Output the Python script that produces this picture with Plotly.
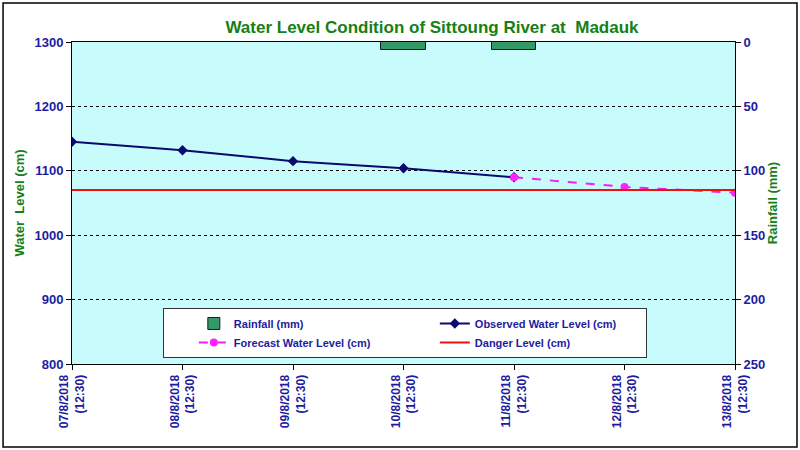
import plotly.graph_objects as go

dates = ["07/8/2018", "08/8/2018", "09/8/2018", "10/8/2018", "11/8/2018", "12/8/2018", "13/8/2018"]
times = ["(12:30)"] * 7
tick_labels = [d + "<br>" + t for d, t in zip(dates, times)]
idx = list(range(len(dates)))

observed = [1145, 1132, 1115, 1104, 1090, None, None]
forecast = [None, None, None, None, 1090, 1075, 1066]
danger = [1070] * 7
rainfall = [0, 0, 0, 6, 6, 0, 0]

navy = "#1c1ca0"
green = "#158015"

fig = go.Figure()
fig.add_trace(go.Bar(x=idx, y=rainfall, yaxis="y2", name="Rainfall (mm)", width=0.4,
                     marker=dict(color="#339966", line=dict(color="#1a1a1a", width=1))))
fig.add_trace(go.Scatter(x=idx, y=observed, name="Observed Water Level (cm)", mode="lines+markers",
                         line=dict(color="#0a0a6e", width=2), marker=dict(symbol="diamond", size=8, color="#0a0a6e")))
fig.add_trace(go.Scatter(x=idx, y=forecast, name="Forecast Water Level (cm)", mode="lines+markers",
                         line=dict(color="#ee22ee", width=2, dash="dash"), marker=dict(symbol="circle", size=8, color="#ff22ff")))
fig.add_trace(go.Scatter(x=idx, y=danger, name="Danger Level (cm)", mode="lines",
                         line=dict(color="#ee1111", width=2)))

tickfont = dict(family="Liberation Sans Narrow, Arial Narrow, Liberation Sans, Arial", size=13, color=navy)
fig.update_layout(
    width=800, height=450,
    margin=dict(l=72, r=65, t=42, b=86, autoexpand=False),
    paper_bgcolor="white", plot_bgcolor="#c8fcfc",
    title=dict(text="<b>Water Level Condition of Sittoung River at  Madauk</b>", x=0.54, xanchor="center",
               y=0.94, yanchor="middle", automargin=False,
               font=dict(family="Liberation Sans Narrow, Arial Narrow, Liberation Sans, Arial", size=17, color=green)),
    xaxis=dict(range=[0, 6], tickvals=idx, ticktext=["<b>" + t + "</b>" for t in tick_labels], tickangle=-90,
               tickfont=dict(family="Liberation Sans, Arial", size=12, color=navy), automargin=False,
               showgrid=False, zeroline=False, showline=True, linecolor="black", mirror=True,
               ticks="outside", ticklen=5, tickcolor="black"),
    yaxis=dict(range=[800, 1300], dtick=100, showgrid=True, gridcolor="black", griddash="dot", gridwidth=1,
               zeroline=False, showline=True, linecolor="black", ticks="outside", ticklen=5, tickcolor="black",
               tickfont=tickfont, tickprefix="<b>", ticksuffix="</b>", automargin=False,
               title=dict(text="<b>Water  Level (cm)</b>", standoff=6,
                          font=dict(family="Liberation Sans, Arial", size=13, color=green))),
    yaxis2=dict(range=[250, 0], dtick=50, overlaying="y", side="right", showgrid=False, zeroline=False,
                showline=True, linecolor="black", ticks="outside", ticklen=5, tickcolor="black",
                tickfont=tickfont, tickprefix="<b>", ticksuffix="</b>", automargin=False,
                title=dict(text="<b>Rainfall (mm)</b>", standoff=1,
                           font=dict(family="Liberation Sans, Arial", size=13, color=green))),
    legend=dict(orientation="h", x=0.137, y=0.174, xanchor="left", yanchor="top",
                bgcolor="white", bordercolor="#333333", borderwidth=1,
                entrywidth=166, indentation=30, traceorder="normal",
                font=dict(family="Liberation Sans, Arial", size=11, color=navy)),
    bargap=0, showlegend=True,
)
for tr in fig.data:
    tr.name = "<b>" + tr.name + "</b>"

fig.add_shape(type="rect", xref="paper", yref="paper", x0=-0.104, x1=1.0935, y0=-0.258, y1=1.121,
              line=dict(color="black", width=1.5), fillcolor="rgba(0,0,0,0)", layer="below")

fig.write_html("out.html", config={"displayModeBar": False},
               post_script="document.body.style.margin='0px';")
